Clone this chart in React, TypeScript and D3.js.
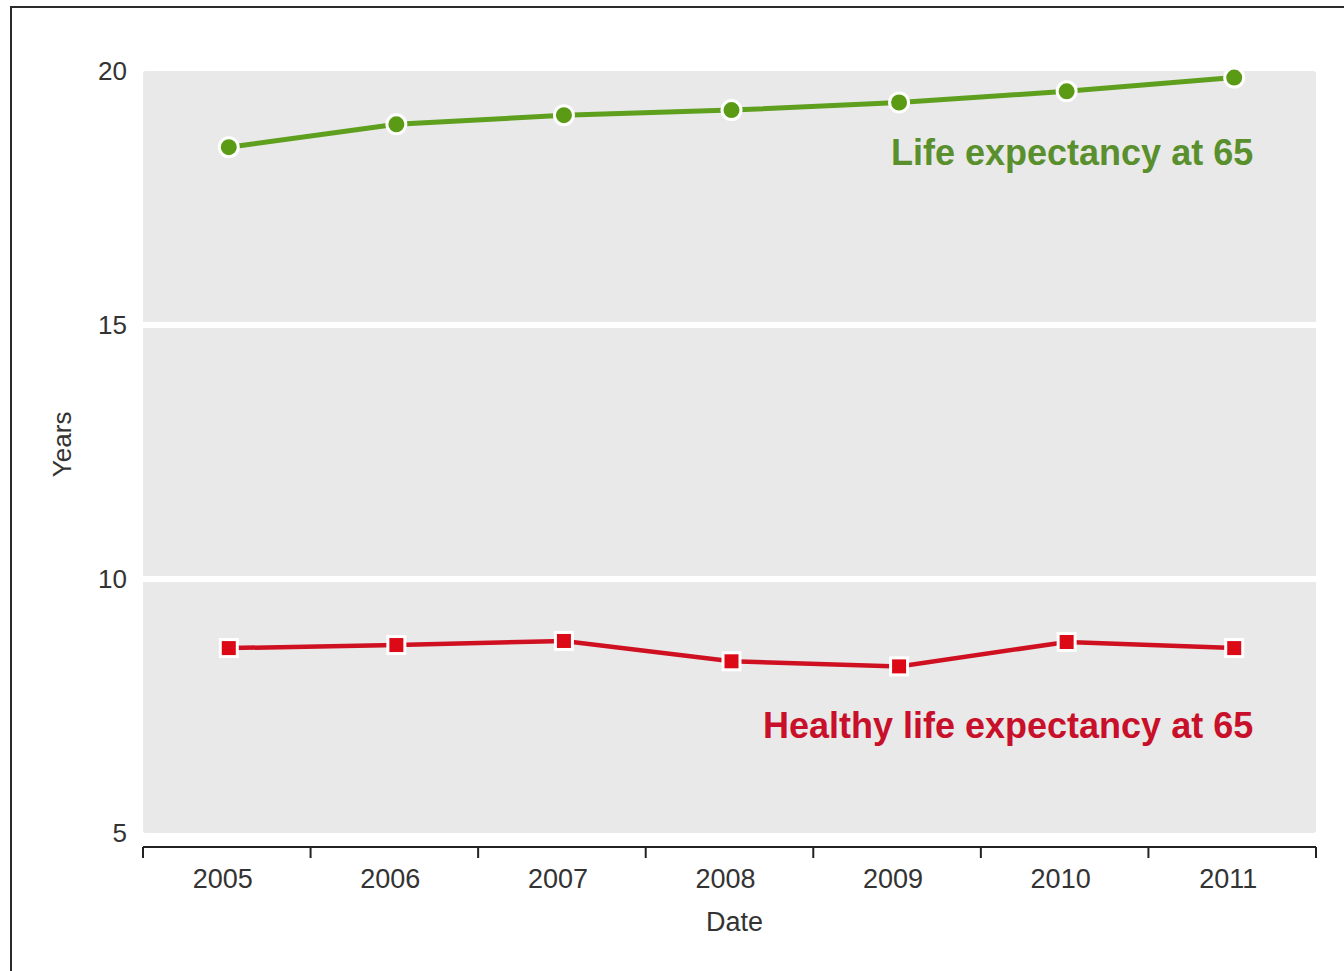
import React, { useEffect, useRef } from 'react';
import * as d3 from 'd3';

const years = ['2005', '2006', '2007', '2008', '2009', '2010', '2011'];
const lifeExpectancy = [18.5, 18.95, 19.13, 19.23, 19.38, 19.6, 19.87];
const healthyLifeExpectancy = [8.64, 8.7, 8.78, 8.38, 8.28, 8.76, 8.64];
const yTicks = [5, 10, 15, 20];

const App = () => {
  const svgRef = useRef<SVGSVGElement>(null);

  useEffect(() => {
    const width = 1344;
    const height = 971;
    const margin = { top: 71, right: 28, bottom: 138, left: 143 };
    const innerW = width - margin.left - margin.right;
    const innerH = height - margin.top - margin.bottom;
    const font = 'Liberation Sans, Arial, sans-serif';

    const svg = d3.select(svgRef.current);
    svg.selectAll('*').remove();

    // outer frame (only top/left visible in the original crop)
    svg
      .append('rect')
      .attr('x', 11)
      .attr('y', 7)
      .attr('width', width + 20)
      .attr('height', height + 20)
      .attr('fill', 'white')
      .attr('stroke', '#2b2b2b')
      .attr('stroke-width', 2);

    const g = svg.append('g').attr('transform', `translate(${margin.left}, ${margin.top})`);

    const x = d3.scaleBand().domain(years).range([0, innerW]);
    const y = d3.scaleLinear().domain([5, 20]).range([innerH, 0]);
    const cx = (d: string) => (x(d) as number) + x.bandwidth() / 2 + 2;

    // panel
    g.append('rect')
      .attr('x', 0)
      .attr('y', y(20))
      .attr('width', innerW)
      .attr('height', y(5) - y(20))
      .attr('rx', 3)
      .attr('fill', '#e9e9e9');

    // white gridlines
    g.selectAll('.grid')
      .data(yTicks.filter((t) => t > 5 && t < 20))
      .enter()
      .append('line')
      .attr('x1', 0)
      .attr('x2', innerW)
      .attr('y1', (d) => y(d))
      .attr('y2', (d) => y(d))
      .attr('stroke', 'white')
      .attr('stroke-width', 6);

    // y tick labels
    g.selectAll('.ytick')
      .data(yTicks)
      .enter()
      .append('text')
      .attr('x', -16)
      .attr('y', (d) => y(d))
      .attr('dy', '0.35em')
      .attr('text-anchor', 'end')
      .attr('font-family', font)
      .attr('font-size', 26)
      .attr('fill', '#333')
      .text((d) => d);

    // x axis
    const xAxisG = g.append('g').attr('transform', `translate(0, ${innerH + 14})`);
    xAxisG
      .append('line')
      .attr('x1', 0)
      .attr('x2', innerW)
      .attr('stroke', '#222')
      .attr('stroke-width', 2);
    const edges = years.map((d) => x(d) as number).concat([innerW]);
    xAxisG
      .selectAll('.xtick')
      .data(edges)
      .enter()
      .append('line')
      .attr('x1', (d) => d)
      .attr('x2', (d) => d)
      .attr('y1', 0)
      .attr('y2', 11)
      .attr('stroke', '#222')
      .attr('stroke-width', 2);
    xAxisG
      .selectAll('.xlabel')
      .data(years)
      .enter()
      .append('text')
      .attr('x', (d) => (x(d) as number) + x.bandwidth() / 2 - 4)
      .attr('y', 41)
      .attr('text-anchor', 'middle')
      .attr('font-family', font)
      .attr('font-size', 27)
      .attr('fill', '#333')
      .text((d) => d);

    // axis titles
    g.append('text')
      .attr('x', innerW / 2 + 5)
      .attr('y', innerH + 98)
      .attr('text-anchor', 'middle')
      .attr('font-family', font)
      .attr('font-size', 27)
      .attr('fill', '#333')
      .text('Date');
    g.append('text')
      .attr('transform', `translate(-72, ${y(12.65)}) rotate(-90)`)
      .attr('text-anchor', 'middle')
      .attr('font-family', font)
      .attr('font-size', 26)
      .attr('fill', '#333')
      .text('Years');

    const line = d3
      .line<number>()
      .x((_, i) => cx(years[i]))
      .y((d) => y(d));

    // life expectancy (green)
    g.append('path')
      .datum(lifeExpectancy)
      .attr('d', line)
      .attr('fill', 'none')
      .attr('stroke', '#5e9f1e')
      .attr('stroke-width', 5);
    g.selectAll('.lifeDot')
      .data(lifeExpectancy)
      .enter()
      .append('circle')
      .attr('cx', (_, i) => cx(years[i]))
      .attr('cy', (d) => y(d))
      .attr('r', 9.5)
      .attr('fill', '#5a9a14')
      .attr('stroke', 'white')
      .attr('stroke-width', 3);

    // healthy life expectancy (red)
    g.append('path')
      .datum(healthyLifeExpectancy)
      .attr('d', line)
      .attr('fill', 'none')
      .attr('stroke', '#cf1020')
      .attr('stroke-width', 4.5);
    const sq = 17;
    g.selectAll('.healthySq')
      .data(healthyLifeExpectancy)
      .enter()
      .append('rect')
      .attr('x', (_, i) => cx(years[i]) - sq / 2)
      .attr('y', (d) => y(d) - sq / 2)
      .attr('width', sq)
      .attr('height', sq)
      .attr('fill', '#dc0a16')
      .attr('stroke', 'white')
      .attr('stroke-width', 3);

    // series labels
    g.append('text')
      .attr('x', cx('2011') + 19)
      .attr('y', y(18.15))
      .attr('text-anchor', 'end')
      .attr('font-family', font)
      .attr('font-weight', 'bold')
      .attr('font-size', 36)
      .attr('fill', '#5a8f2e')
      .text('Life expectancy at 65');
    g.append('text')
      .attr('x', cx('2011') + 19)
      .attr('y', y(6.87))
      .attr('text-anchor', 'end')
      .attr('font-family', font)
      .attr('font-weight', 'bold')
      .attr('font-size', 36)
      .attr('fill', '#c8102a')
      .text('Healthy life expectancy at 65');
  }, []);

  return (
    <svg
      ref={svgRef}
      width={1344}
      height={971}
      style={{ position: 'absolute', left: 0, top: 0, background: 'white' }}
    ></svg>
  );
};

export default App;
